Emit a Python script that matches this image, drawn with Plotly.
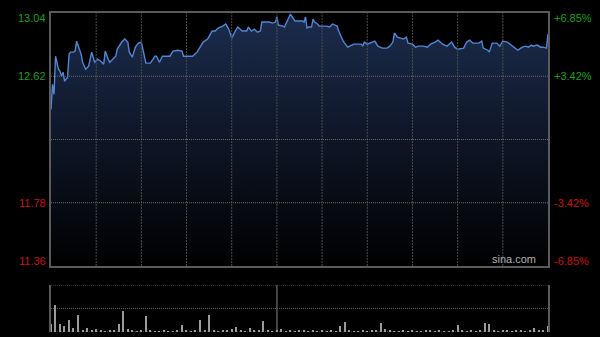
import plotly.graph_objects as go

# ---- price data (minute index from open, price) ----
minutes = [0,1,2,3,5,6,7,8,9,11,12,13,15,16,17,19,20,21,23,25,27,28,29,31,33,35,36,38,39,41,43,44,47,49,51,52,54,56,58,60,61,63,66,68,69,70,72,74,76,79,81,84,87,88,91,94,97,99,
           101,104,107,109,111,114,116,118,120,122,124,127,130,131,133,135,137,139,140,143,145,147,149,150,151,154,155,159,162,167,168,169,170,171,173,174,175,177,178,181,183,185,187,190,191,194,197,201,206,207,208,210,213,215,217,220,223,225,227,228,230,232,
           234,236,237,240,242,244,247,250,252,255,257,260,263,266,268,270,274,276,278,280,284,286,287,290,291,293,296,298,300,303,305,308,310,313,315,317,319,320,323,325,327,329,330]
prices = [12.40,12.567,12.50,12.753,12.667,12.653,12.62,12.647,12.587,12.613,12.767,12.78,12.78,12.787,12.853,12.787,12.767,12.713,12.667,12.687,12.78,12.747,12.713,12.733,12.72,12.70,12.787,12.733,12.713,12.733,12.753,12.80,12.847,12.867,12.847,12.78,12.747,12.813,12.84,12.847,12.807,12.707,12.707,12.733,12.753,12.753,12.713,12.753,12.753,12.753,12.787,12.793,12.787,12.753,12.753,12.753,12.78,12.813,
          12.847,12.867,12.92,12.92,12.94,12.953,12.967,12.933,12.873,12.913,12.947,12.92,12.92,12.947,12.92,12.933,12.913,12.92,12.98,12.98,12.98,12.973,12.98,13.013,12.96,12.953,12.947,13.033,12.987,12.987,12.98,13.013,12.94,12.947,12.947,13.00,12.98,12.967,12.953,12.953,12.953,12.947,12.967,12.953,12.92,12.853,12.813,12.833,12.833,12.82,12.847,12.833,12.847,12.853,12.82,12.807,12.807,12.82,12.847,12.907,12.88,12.873,
          12.867,12.88,12.84,12.833,12.813,12.82,12.82,12.813,12.833,12.847,12.86,12.833,12.82,12.847,12.813,12.80,12.807,12.847,12.86,12.84,12.84,12.853,12.807,12.793,12.78,12.84,12.84,12.82,12.853,12.847,12.833,12.813,12.793,12.813,12.82,12.813,12.827,12.82,12.827,12.813,12.813,12.807,12.90]

# ---- volume data (every 3 minutes) ----
vol_minutes = list(range(0, 331, 3))
volumes = [16,54,16,12,24,8,34,4,8,4,6,3,2,4,3,16,42,6,4,2,3,32,3,2,2,3,2,2,3,14,3,2,3,24,3,34,3,2,3,4,6,10,4,2,8,3,4,22,3,2,
           3,6,2,3,2,4,3,2,3,2,3,2,3,2,12,20,3,2,2,3,2,3,4,18,6,3,2,2,3,2,3,2,2,3,4,2,3,2,2,3,14,3,2,3,2,3,18,16,3,2,
           3,4,2,3,4,2,3,8,3,4,12]

prev_close = 12.20
y_min, y_max = 11.36, 13.04
vol_max = 94
grid_minutes = list(range(30, 330, 30))
grid_prices = [12.62, prev_close, 11.78]
vol_grid = [0, vol_max / 2, vol_max]
left_labels = ["13.04", "12.62", "11.78", "11.36"]
right_labels = ["+6.85%", "+3.42%", "-3.42%", "-6.85%"]
tick_colors = ["#18a018", "#18a018", "#cc1010", "#cc1010"]

GREY = "#5a5a5a"

fig = go.Figure()
fig.add_trace(go.Scatter(
    x=minutes, y=prices, mode="lines",
    line=dict(color="#4f86d6", width=1.4),
    fill="tozeroy",
    fillgradient=dict(type="vertical", start=y_min, stop=y_max,
                      colorscale=[[0, "#000000"], [1, "#1c2c4d"]]),
    xaxis="x", yaxis="y", hoverinfo="skip"))
fig.add_trace(go.Bar(
    x=vol_minutes, y=volumes, marker=dict(color="#9a9a9a", line=dict(width=0)),
    width=0.8, xaxis="x2", yaxis="y2", hoverinfo="skip"))

main_bottom = (332 - 266) / 319
vol_top = (332 - 285) / 319

fig.update_layout(
    width=600, height=337,
    paper_bgcolor="#000000", plot_bgcolor="#000000",
    margin=dict(l=51, r=52, t=13, b=5),
    showlegend=False,
    bargap=0,
    xaxis=dict(domain=[0, 1], range=[0, 330], showticklabels=False, showgrid=False,
               zeroline=False, showline=True, linecolor=GREY, mirror=True, linewidth=1.5, ticks=""),
    yaxis=dict(domain=[main_bottom, 1], range=[y_min, y_max], showticklabels=False,
               showgrid=False, zeroline=False, showline=True, linecolor=GREY, mirror=True,
               linewidth=1.5, ticks=""),
    xaxis2=dict(domain=[0, 1], range=[0, 330], anchor="y2", showticklabels=False,
                showgrid=False, zeroline=False, showline=False, ticks=""),
    yaxis2=dict(domain=[0, vol_top], range=[0, vol_max], anchor="x2", showticklabels=False,
                showgrid=False, zeroline=False, showline=True, linecolor=GREY, mirror=True,
                linewidth=1.5, ticks=""),
)

shapes = []
for m in grid_minutes:
    shapes.append(dict(type="line", xref="x", yref="y", x0=m, x1=m, y0=y_min, y1=y_max,
                       line=dict(color="#4c4c4c", width=1, dash="2px,1px"), layer="above"))
for p in grid_prices:
    shapes.append(dict(type="line", xref="x", yref="y", x0=0, x1=330, y0=p, y1=p,
                       line=dict(color="#6a6a6a", width=1, dash="1px,1px"), layer="above"))
for v in vol_grid:
    shapes.append(dict(type="line", xref="x2", yref="y2", x0=0, x1=330, y0=v, y1=v,
                       line=dict(color="#5a5a5a", width=1, dash="1px,1px"), layer="below"))
shapes.append(dict(type="line", xref="x2", yref="y2", x0=150, x1=150, y0=0, y1=vol_max,
                   line=dict(color="#5a5a5a", width=1.5), layer="below"))
fig.update_layout(shapes=shapes)

ann_y = [y_max - 0.03, 12.62, 11.78, y_min + 0.03]
for v, lt, rt, c in zip(ann_y, left_labels, right_labels, tick_colors):
    fig.add_annotation(x=0, xref="paper", y=v, yref="y", text=lt, showarrow=False,
                       xanchor="right", yanchor="middle", xshift=-3,
                       font=dict(family="Liberation Sans, Arial", size=11, color=c))
    fig.add_annotation(x=1, xref="paper", y=v, yref="y", text=rt, showarrow=False,
                       xanchor="left", yanchor="middle", xshift=4,
                       font=dict(family="Liberation Sans, Arial", size=11, color=c))

fig.add_annotation(x=1, xref="paper", y=y_min, yref="y", text="sina.com", showarrow=False,
                   xanchor="right", yanchor="bottom", xshift=-10, yshift=-1,
                   font=dict(family="Liberation Sans, Arial", size=11, color="#b0b0b0"))

fig.write_html("out.html")
